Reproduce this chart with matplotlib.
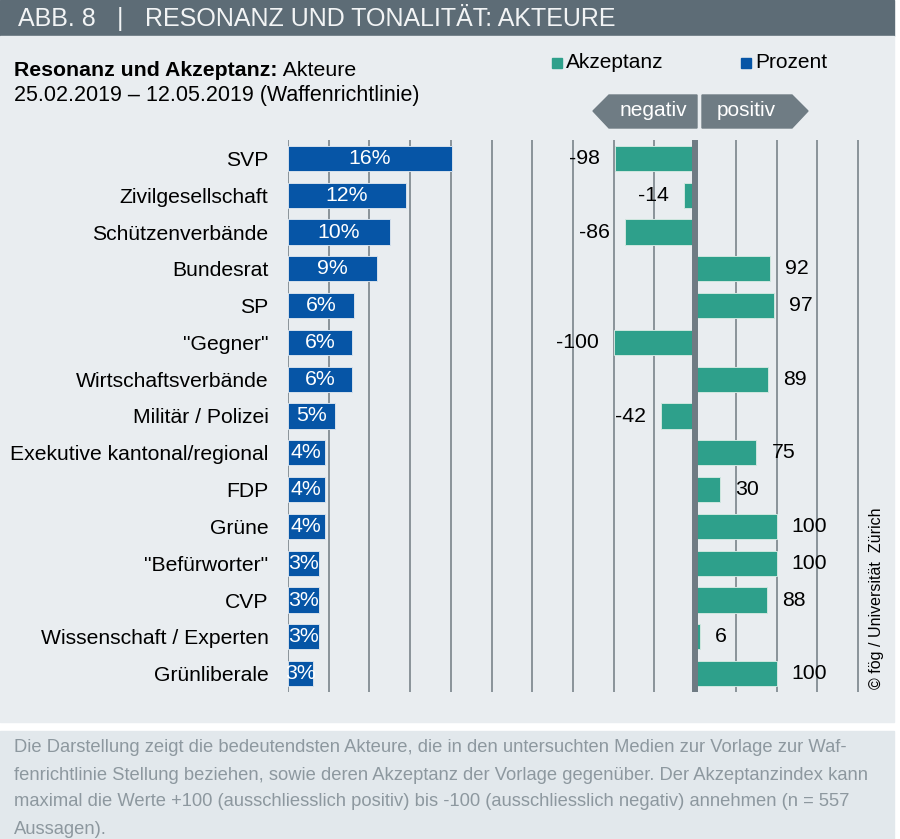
import matplotlib
matplotlib.use("Agg")
import matplotlib.pyplot as plt
from matplotlib.patches import Rectangle, Polygon

plt.rcParams['font.family'] = ['Liberation Sans', 'DejaVu Sans']

# ---------------- data ----------------
categories = ["SVP", "Zivilgesellschaft", "Schützenverbände", "Bundesrat", "SP",
              "\"Gegner\"", "Wirtschaftsverbände", "Militär / Polizei",
              "Exekutive kantonal/regional", "FDP", "Grüne", "\"Befürworter\"",
              "CVP", "Wissenschaft / Experten", "Grünliberale"]
prozent = [16.1, 11.6, 10.0, 8.7, 6.5, 6.3, 6.3, 4.6, 3.6, 3.6, 3.6, 3.0, 3.0, 3.0, 2.5]
prozent_labels = ["16%", "12%", "10%", "9%", "6%", "6%", "6%", "5%", "4%", "4%",
                  "4%", "3%", "3%", "3%", "3%"]
akzeptanz = [-98, -14, -86, 92, 97, -100, 89, -42, 75, 30, 100, 100, 88, 6, 100]

title_left = "ABB. 8"
title_right = "RESONANZ UND TONALITÄT: AKTEURE"
subtitle_bold = "Resonanz und Akzeptanz:"
subtitle_rest = " Akteure"
subtitle2 = "25.02.2019 – 12.05.2019 (Waffenrichtlinie)"
caption_lines = [
    "Die Darstellung zeigt die bedeutendsten Akteure, die in den untersuchten Medien zur Vorlage zur Waf-",
    "fenrichtlinie Stellung beziehen, sowie deren Akzeptanz der Vorlage gegenüber. Der Akzeptanzindex kann",
    "maximal die Werte +100 (ausschliesslich positiv) bis -100 (ausschliesslich negativ) annehmen (n = 557",
    "Aussagen).",
]
copyright_text = "© fög / Universität  Zürich"

# ---------------- styling ----------------
W, H = 900, 839
BLUE = "#0655a6"
GREEN = "#2ea08b"
PANEL = "#e9edf0"
HEADER = "#5d6c76"
CAPBG = "#e2e8ec"
GRID = "#8a9399"
ZERO = "#6f7b83"
ARROW = "#6f7c84"

fig = plt.figure(figsize=(W / 100, H / 100), dpi=100)
fig.patch.set_facecolor("white")


def P(x, y):
    return (x / W, 1 - y / H)


def rect(x0, y0, x1, y1, color, z=-10):
    fig.patches.append(Rectangle(P(x0, y1), (x1 - x0) / W, (y1 - y0) / H,
                                 transform=fig.transFigure, color=color, zorder=z))


# backgrounds
rect(0, 0, 894, 36, HEADER)
rect(0, 36, 894, 722, PANEL)
rect(0, 731, 894, 839, CAPBG)

# header text
fig.text(*P(18, 19), title_left, color="#f2f4f5", fontsize=18, va="center", ha="left")
fig.text(*P(120, 19), "|", color="#f2f4f5", fontsize=18, va="center", ha="center")
fig.text(*P(145, 19), title_right, color="#f2f4f5", fontsize=18, va="center", ha="left")

# subtitle
t = fig.text(*P(14, 71), subtitle_bold, fontsize=15.3, fontweight="bold", va="center", ha="left")
fig.canvas.draw()
bb = t.get_window_extent()
fig.text(bb.x1 / W, 1 - 71 / H, subtitle_rest, fontsize=15.3, va="center", ha="left")
fig.text(*P(14, 95), subtitle2, fontsize=15.5, va="center", ha="left")

# legend
rect(552, 58, 562, 68, GREEN, 1)
fig.text(*P(566, 63), "Akzeptanz", fontsize=15, va="center", ha="left")
rect(741, 58, 751, 68, BLUE, 1)
fig.text(*P(755, 63), "Prozent", fontsize=15, va="center", ha="left")

# negativ / positiv arrows
neg = [P(593, 111), P(609, 95), P(697, 95), P(697, 128), P(609, 128)]
pos = [P(702, 95), P(792, 95), P(808, 111), P(792, 128), P(702, 128)]
for pts in (neg, pos):
    fig.patches.append(Polygon(pts, closed=True, transform=fig.transFigure,
                               color=ARROW, zorder=1))
fig.text(*P(653, 111), "negativ", color="white", fontsize=15, va="center", ha="center")
fig.text(*P(746, 111), "positiv", color="white", fontsize=15, va="center", ha="center")

# ---------------- axes ----------------
ax_left, ax_right, ax_top, ax_bottom = 288, 861, 140, 692
ax = fig.add_axes([ax_left / W, 1 - ax_bottom / H, (ax_right - ax_left) / W,
                   (ax_bottom - ax_top) / H])
ax.set_facecolor("none")
PCT_MAX = 56.3
ax.set_xlim(0, PCT_MAX)
n = len(categories)
ax.set_ylim(n - 0.5, -0.5)
ax.set_xticks(range(0, 57, 4))
ax.xaxis.grid(True, color=GRID, lw=1.4)
ax.set_axisbelow(True)
ax.tick_params(axis="x", length=0, labelbottom=False)
ax.tick_params(axis="y", length=0, pad=14, labelsize=15.2)
ax.set_yticks(range(n))
ax.set_yticklabels(categories)
for s in ax.spines.values():
    s.set_visible(False)

ypos = list(range(n))
bh = 0.68
ax.barh(ypos, prozent, height=bh, color=BLUE, edgecolor="#d5e0ec", linewidth=0.7, zorder=2)
for y, v, lab in zip(ypos, prozent, prozent_labels):
    ax.text(v / 2, y, lab, color="white", fontsize=15.3, ha="center", va="center", zorder=3)

# Akzeptanz axis: zero at 40 % grid line, 100 units = 8 %
ax2 = ax.twiny()
ax2.set_facecolor("none")
scale = 0.08
ax2.set_xlim(-40 / scale, (PCT_MAX - 40) / scale)
ax2.set_ylim(n - 0.5, -0.5)
ax2.axis("off")
ax2.barh(ypos, akzeptanz, height=bh, color=GREEN, edgecolor="#cfe6df", linewidth=0.7, zorder=2)
ax2.axvline(0, color=ZERO, lw=4.3, zorder=4)
for y, v in zip(ypos, akzeptanz):
    if v < 0:
        ax2.annotate(str(v), (v, y), xytext=(-11, 0), textcoords="offset points",
                     ha="right", va="center", fontsize=15.3, zorder=5)
    else:
        ax2.annotate(str(v), (v, y), xytext=(11, 0), textcoords="offset points",
                     ha="left", va="center", fontsize=15.3, zorder=5)

# copyright
fig.text(*P(876, 598), copyright_text, rotation=90, fontsize=11.5, ha="center", va="center")

# caption
for i, line in enumerate(caption_lines):
    fig.text(*P(14, 748 + i * 27), line, color="#8d989f", fontsize=13.2, ha="left", va="center")

fig.savefig("out.png", dpi=100, facecolor="white")
